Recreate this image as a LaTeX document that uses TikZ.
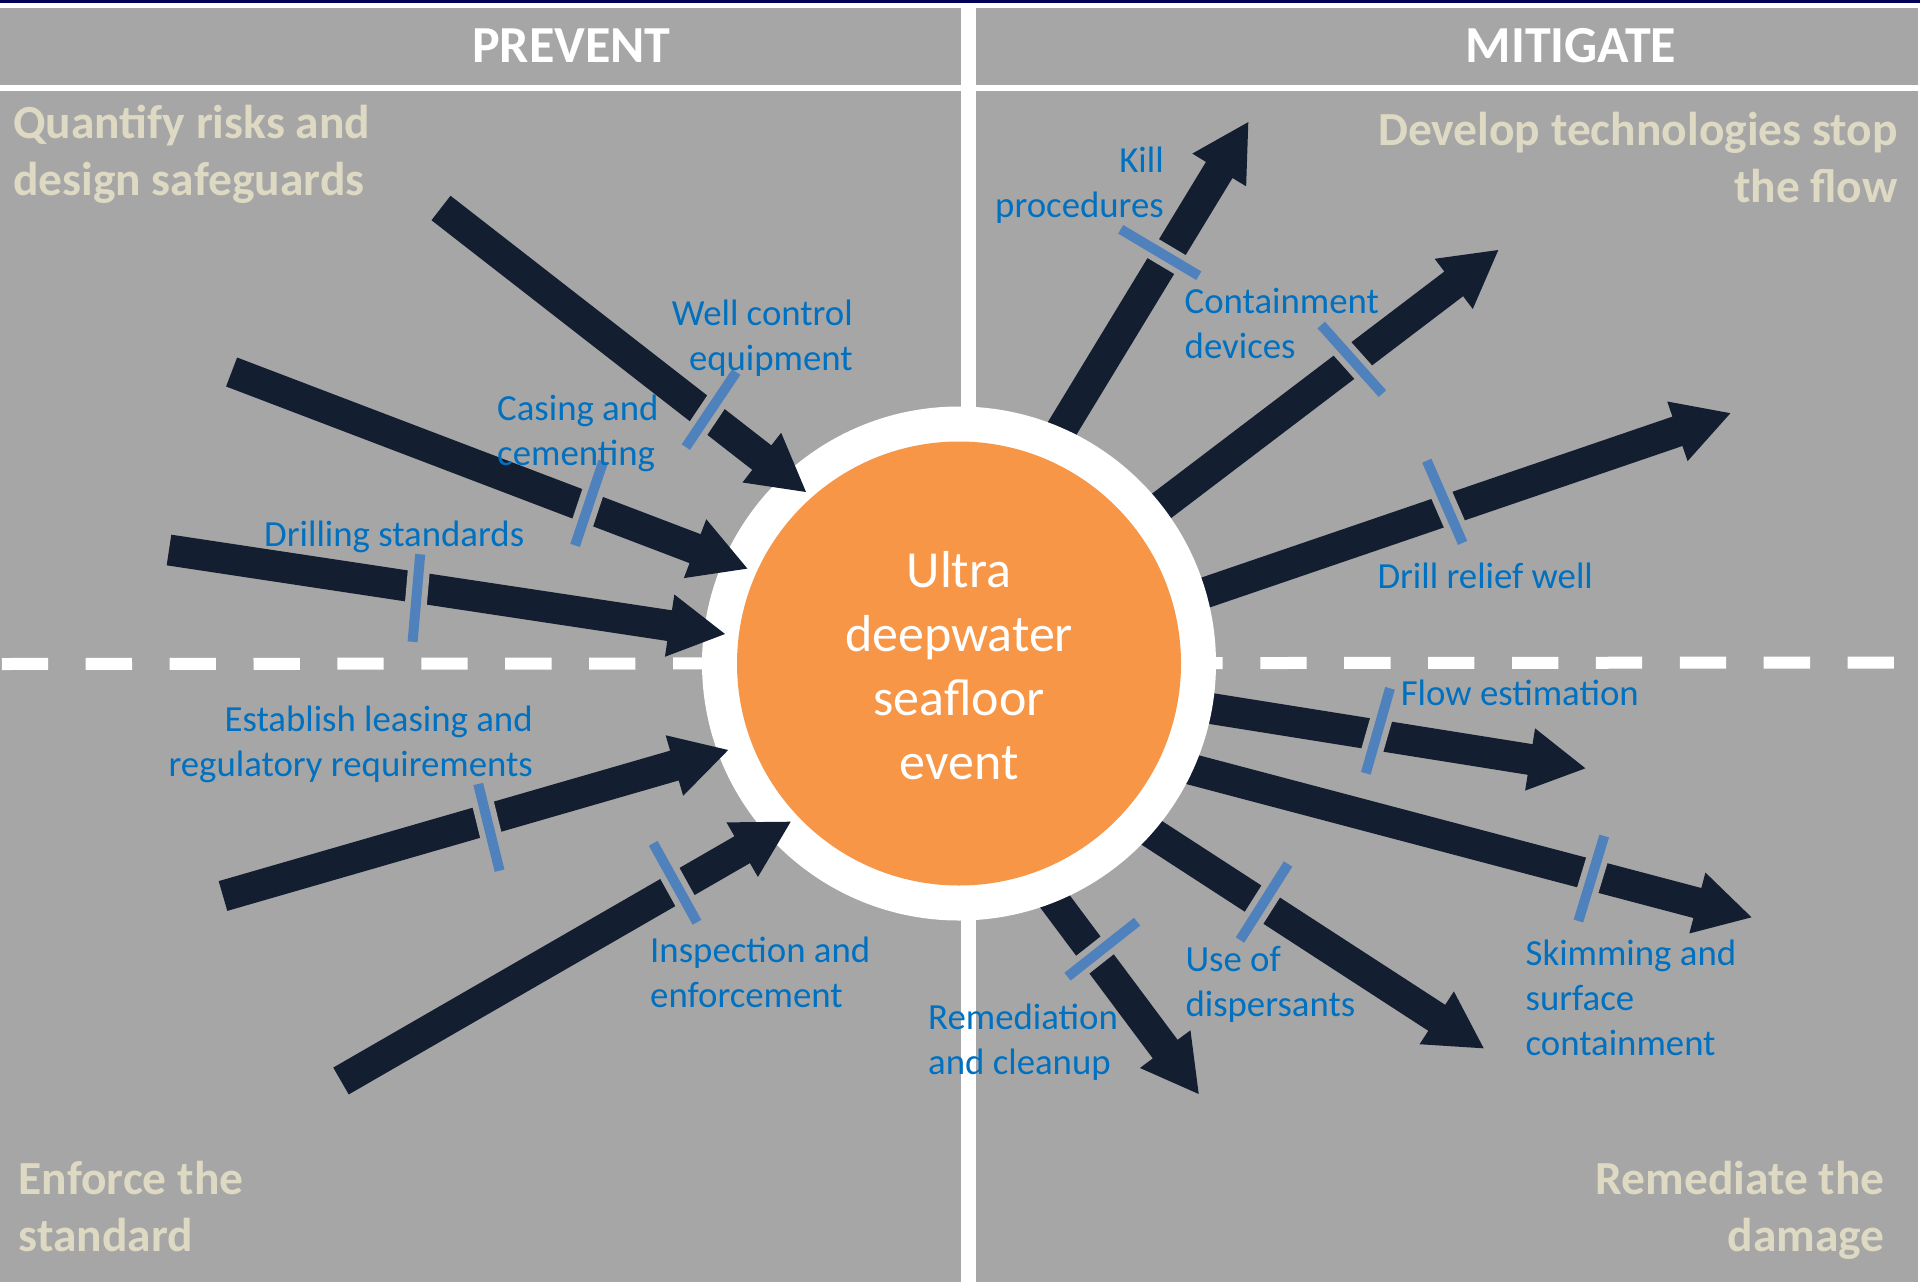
\documentclass[tikz,border=0pt]{standalone}
\usepackage{fontspec}
\setmainfont{Carlito}
\usetikzlibrary{calc}
\definecolor{bggray}{HTML}{A6A6A6}
\definecolor{navytop}{HTML}{00005A}
\definecolor{arrowc}{HTML}{131E30}
\definecolor{tickc}{HTML}{4F81BD}
\definecolor{lblc}{HTML}{0070C0}
\definecolor{titlec}{HTML}{DDD9C3}
\definecolor{orangec}{HTML}{F79646}
\newcommand\mylines[2]{\begin{tabular}[t]{@{}#1@{}}#2\end{tabular}}
\newcommand\fatarrow[2]{%
 \coordinate (#1b) at ($(#2)!56pt!(#1)$);
 \fill[arrowfill] ($(#1)!15.5pt!90:(#2)$) -- ($(#1b)!15.5pt!90:(#2)$) -- ($(#1b)!31.5pt!90:(#2)$) -- (#2) -- ($(#1b)!31.5pt!-90:(#2)$) -- ($(#1b)!15.5pt!-90:(#2)$) -- ($(#1)!15.5pt!-90:(#2)$) -- cycle;}
\newcommand\tickmark[2]{%
 \draw[tickgap] (#1) -- (#2);
 \draw[tickline] (#1) -- (#2);}
\tikzset{
 arrowfill/.style={fill=arrowc},
 tickgap/.style={draw=bggray, line width=22pt},
 tickline/.style={draw=tickc, line width=10pt},
 lbl/.style={text=lblc, inner sep=0pt, font={\fontsize{36.8}{45}\selectfont}},
 qtitle/.style={text=titlec, inner sep=0pt, font={\fontsize{47.5}{57}\selectfont\bfseries}},
 hdr/.style={text=white, inner sep=0pt, font={\fontsize{52}{62}\selectfont\bfseries}},
 ctext/.style={text=white, inner sep=0pt, font={\fontsize{52}{64}\selectfont}},
 disc/.style={circle, inner sep=0pt, draw=none},
}
\begin{document}
\begin{tikzpicture}[x=1pt,y=-1pt]
\path[use as bounding box, fill=white] (0,0) rectangle (1920,1282);
\fill[navytop] (0,0) rectangle (1920,2.7);
\fill[bggray] (0,8.3) rectangle (1918,1282);
% dividers
\draw[white, line width=15pt] (968,8.3) -- (968,1282);
\draw[white, line width=6pt] (0,88.3) -- (1918,88.3);
\draw[white, line width=12pt, dash pattern=on 46.3pt off 37.6pt] (1.8,664) -- (1918,662.5);
% arrow coordinates
\coordinate (a1t) at (441,208);     \coordinate (a1h) at (806,492);
\coordinate (a2t) at (231.6,372);   \coordinate (a2h) at (747.4,568.6);
\coordinate (a3t) at (169,550);     \coordinate (a3h) at (725,634);
\coordinate (a4t) at (223,896);     \coordinate (a4h) at (728.2,750);
\coordinate (a5t) at (341,1081);    \coordinate (a5h) at (790.7,821.7);
\coordinate (a6t) at (1050,448.4);  \coordinate (a6h) at (1248.3,122.1);
\coordinate (a7t) at (1143.1,519.9);\coordinate (a7h) at (1498.3,250);
\coordinate (a8t) at (1183.4,600.1);\coordinate (a8h) at (1730.4,413.2);
\coordinate (a9t) at (1183.3,704.1);\coordinate (a9h) at (1585.4,768.3);
\coordinate (a10t) at (1165.8,762.6);\coordinate (a10h) at (1751.5,917.3);
\coordinate (a11t) at (1128,817.4); \coordinate (a11h) at (1483.7,1048.3);
\coordinate (a12t) at (1037.5,878); \coordinate (a12h) at (1198.7,1094);
% outgoing arrows (under the ring)
\fatarrow{a6t}{a6h}
\fatarrow{a7t}{a7h}
\fatarrow{a8t}{a8h}
\fatarrow{a9t}{a9h}
\fatarrow{a10t}{a10h}
\fatarrow{a11t}{a11h}
\fatarrow{a12t}{a12h}
% white ring
\node[disc, fill=white, minimum size=514pt] (ring) at (959,663.5) {};
% incoming arrows
\fatarrow{a1t}{a1h}
\fatarrow{a2t}{a2h}
\fatarrow{a3t}{a3h}
\fatarrow{a4t}{a4h}
\fatarrow{a5t}{a5h}
% central event
\node[disc, fill=orangec, minimum size=444pt] (ev) at (959,663.5) {};
\node[ctext, anchor=base] (evtext) at (959,587) {\mylines{c}{Ultra\\deepwater\\seafloor\\event}};
% ticks
\coordinate (t1a) at (685.8,447.1);  \coordinate (t1b) at (736.2,372.1);
\coordinate (t2a) at (603.2,461.4);  \coordinate (t2b) at (575.1,545.4);
\coordinate (t3a) at (420.2,554.3);  \coordinate (t3b) at (412.6,641.8);
\coordinate (t4a) at (478.2,784);    \coordinate (t4b) at (499.6,870.7);
\coordinate (t5a) at (653.2,843.3);  \coordinate (t5b) at (697,922.3);
\coordinate (t6a) at (1120.7,229.3); \coordinate (t6b) at (1198.8,275.7);
\coordinate (t7a) at (1321.2,325);   \coordinate (t7b) at (1382.4,393.6);
\coordinate (t8a) at (1426.8,460.7); \coordinate (t8b) at (1462.6,542.9);
\coordinate (t9a) at (1390,688.3);   \coordinate (t9b) at (1365.8,773.3);
\coordinate (t10a) at (1604.2,836);  \coordinate (t10b) at (1578.4,921);
\coordinate (t11a) at (1288.1,864);  \coordinate (t11b) at (1240,940);
\coordinate (t12a) at (1137.1,921.7);\coordinate (t12b) at (1067.5,976.7);
\tickmark{t1a}{t1b}
\tickmark{t2a}{t2b}
\tickmark{t3a}{t3b}
\tickmark{t4a}{t4b}
\tickmark{t5a}{t5b}
\tickmark{t6a}{t6b}
\tickmark{t7a}{t7b}
\tickmark{t8a}{t8b}
\tickmark{t9a}{t9b}
\tickmark{t10a}{t10b}
\tickmark{t11a}{t11b}
\tickmark{t12a}{t12b}
% headers
\node[hdr, anchor=base] (hprev) at (571.5,62.5) {PREVENT};
\node[hdr, anchor=base] (hmit) at (1571,62.5) {MITIGATE};
% quadrant titles
\node[qtitle, anchor=base west] (q1) at (13,138.5) {\mylines{l}{Quantify risks and\\design safeguards}};
\node[qtitle, anchor=base east] (q2) at (1898,145.5) {\mylines{r}{Develop technologies stop\\the flow}};
\node[qtitle, anchor=base west] (q3) at (18.4,1194.5) {\mylines{l}{Enforce the\\standard}};
\node[qtitle, anchor=base east] (q4) at (1885,1194.5) {\mylines{r}{Remediate the\\damage}};
% labels
\node[lbl, anchor=base east] (l1) at (853,325) {\mylines{r}{Well control\\equipment}};
\node[lbl, anchor=base west] (l2) at (497,420) {\mylines{l}{Casing and\\cementing}};
\node[lbl, anchor=base west] (l3) at (264,546) {Drilling standards};
\node[lbl, anchor=base east] (l4) at (533,731.5) {\mylines{r}{Establish leasing and\\regulatory requirements}};
\node[lbl, anchor=base west] (l5) at (650,962) {\mylines{l}{Inspection and\\enforcement}};
\node[lbl, anchor=base east] (l6) at (1164,172) {\mylines{r}{Kill\\procedures}};
\node[lbl, anchor=base west] (l7) at (1184.5,313.5) {\mylines{l}{Containment\\devices}};
\node[lbl, anchor=base west] (l8) at (1377.3,588.5) {Drill relief well};
\node[lbl, anchor=base west] (l9) at (1400.6,705.5) {Flow estimation};
\node[lbl, anchor=base west] (l10) at (1525.4,965.5) {\mylines{l}{Skimming and\\surface\\containment}};
\node[lbl, anchor=base west] (l11) at (1185.3,971.5) {\mylines{l}{Use of\\dispersants}};
\node[lbl, anchor=base west] (l12) at (928,1029.5) {\mylines{l}{Remediation\\and cleanup}};
\end{tikzpicture}
\end{document}
